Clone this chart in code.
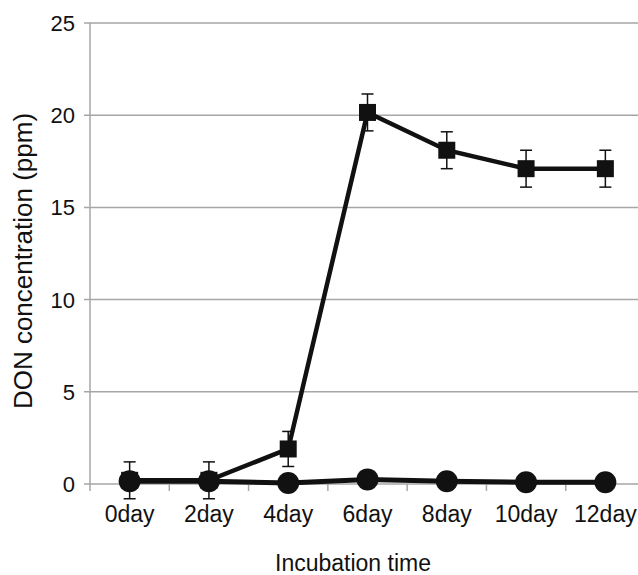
<!DOCTYPE html>
<html lang="en">
  <head>
    <meta charset="UTF-8" />
    <title>DON concentration</title>
    <style>
      body {
        margin: 0;
        background: #fff;
        font-family: "Liberation Sans", Arial, sans-serif;
      }
    </style>
  </head>
  <body>
    <div id="chart"></div>
    <script src="https://d3js.org/d3.v7.min.js"></script>
    <script>
      const days = ["0day", "2day", "4day", "6day", "8day", "10day", "12day"];
      const squareVals = [0.2, 0.2, 1.9, 20.15, 18.1, 17.1, 17.1];
      const squareErr = [1.0, 1.0, 0.95, 1.0, 1.0, 1.0, 1.0];
      const circleVals = [0.15, 0.15, 0.05, 0.25, 0.15, 0.1, 0.1];
      const yTicks = [0, 5, 10, 15, 20, 25];

      const width = 638;
      const height = 575;
      const margin = { top: 23, right: -7, bottom: 91, left: 90 };

      const svg = d3
        .select("#chart")
        .append("svg")
        .attr("width", width)
        .attr("height", height);

      const x = d3
        .scaleBand()
        .domain(days)
        .range([margin.left, width - margin.right]);
      const y = d3
        .scaleLinear()
        .domain([0, 25])
        .range([height - margin.bottom, margin.top]);

      // gridlines
      svg
        .append("g")
        .selectAll("line")
        .data(yTicks)
        .enter()
        .append("line")
        .attr("x1", margin.left - 6)
        .attr("x2", width)
        .attr("y1", (d) => y(d))
        .attr("y2", (d) => y(d))
        .attr("stroke", "#a6a6a6")
        .attr("stroke-width", 1.5);

      // y axis line
      svg
        .append("line")
        .attr("x1", margin.left)
        .attr("x2", margin.left)
        .attr("y1", y(25))
        .attr("y2", y(0))
        .attr("stroke", "#a6a6a6")
        .attr("stroke-width", 1.5);

      // y tick labels
      svg
        .append("g")
        .selectAll("text")
        .data(yTicks)
        .enter()
        .append("text")
        .attr("x", 75)
        .attr("y", (d) => y(d))
        .attr("dy", "0.36em")
        .attr("text-anchor", "end")
        .attr("font-size", 22)
        .attr("fill", "#111")
        .text((d) => d);

      // x category ticks (boundaries)
      const bounds = days.map((d) => x(d)).concat([x(days[6]) + x.bandwidth()]);
      svg
        .append("g")
        .selectAll("line")
        .data(bounds)
        .enter()
        .append("line")
        .attr("x1", (d) => d)
        .attr("x2", (d) => d)
        .attr("y1", y(0))
        .attr("y2", y(0) + 7)
        .attr("stroke", "#a6a6a6")
        .attr("stroke-width", 1.5);

      // x tick labels
      svg
        .append("g")
        .selectAll("text")
        .data(days)
        .enter()
        .append("text")
        .attr("x", (d) => x(d) + x.bandwidth() / 2)
        .attr("y", 522)
        .attr("text-anchor", "middle")
        .attr("font-size", 23)
        .attr("fill", "#111")
        .text((d) => d);

      const cx = (i) => x(days[i]) + x.bandwidth() / 2;
      const line = d3
        .line()
        .x((d, i) => cx(i))
        .y((d) => y(d));

      // square series error bars
      const eb = svg.append("g").attr("stroke", "#111").attr("stroke-width", 1.5);
      squareVals.forEach((v, i) => {
        const top = y(v + squareErr[i]);
        const bot = y(v - squareErr[i]);
        eb.append("line")
          .attr("x1", cx(i)).attr("x2", cx(i))
          .attr("y1", top).attr("y2", bot);
        eb.append("line")
          .attr("x1", cx(i) - 6).attr("x2", cx(i) + 6)
          .attr("y1", top).attr("y2", top);
        eb.append("line")
          .attr("x1", cx(i) - 6).attr("x2", cx(i) + 6)
          .attr("y1", bot).attr("y2", bot);
      });

      // circle series
      svg
        .append("path")
        .datum(circleVals)
        .attr("d", line)
        .attr("fill", "none")
        .attr("stroke", "#111")
        .attr("stroke-width", 5);

      // square series
      svg
        .append("path")
        .datum(squareVals)
        .attr("d", line)
        .attr("fill", "none")
        .attr("stroke", "#111")
        .attr("stroke-width", 4.5);

      svg
        .append("g")
        .selectAll("rect")
        .data(squareVals)
        .enter()
        .append("rect")
        .attr("x", (d, i) => cx(i) - 8.5)
        .attr("y", (d) => y(d) - 8.5)
        .attr("width", 17)
        .attr("height", 17)
        .attr("fill", "#111");

      svg
        .append("g")
        .selectAll("circle")
        .data(circleVals)
        .enter()
        .append("circle")
        .attr("cx", (d, i) => cx(i))
        .attr("cy", (d) => y(d))
        .attr("r", 11)
        .attr("fill", "#111");

      // axis titles
      svg
        .append("text")
        .attr("transform", "translate(32,261) rotate(-90)")
        .attr("text-anchor", "middle")
        .attr("font-size", 26)
        .attr("fill", "#111")
        .text("DON concentration (ppm)");

      svg
        .append("text")
        .attr("x", 353)
        .attr("y", 571)
        .attr("text-anchor", "middle")
        .attr("font-size", 23)
        .attr("fill", "#111")
        .text("Incubation time");
    </script>
  </body>
</html>
